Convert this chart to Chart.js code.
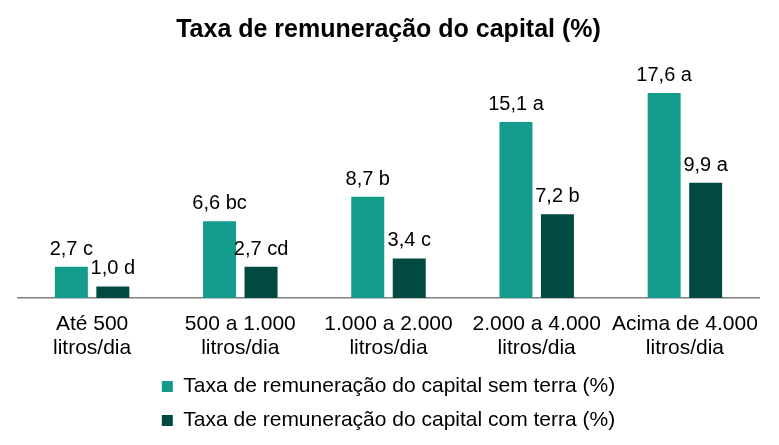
<!DOCTYPE html>
<html><head><meta charset="utf-8">
<script src="https://cdn.jsdelivr.net/npm/chart.js@4"></script>
<style>html,body{margin:0;padding:0;background:#fff}#wrap{width:779px;height:445px}</style>
</head><body><div id="wrap"><canvas id="c"></canvas></div>
<script>
const categories = [["Até 500","litros/dia"],["500 a 1.000","litros/dia"],["1.000 a 2.000","litros/dia"],["2.000 a 4.000","litros/dia"],["Acima de 4.000","litros/dia"]];
const semTerra = [2.7, 6.6, 8.7, 15.1, 17.6];
const comTerra = [1.0, 2.7, 3.4, 7.2, 9.9];
const semLetters = ["c","bc","b","a","a"];
const comLetters = ["d","cd","c","b","a"];
const seriesNames = ["Taxa de remuneração do capital sem terra (%)","Taxa de remuneração do capital com terra (%)"];
const letters = [semLetters, comLetters];
const FONT = '"Liberation Sans", Arial, sans-serif';

const labelPlugin = {
  id:'barLabels',
  afterDatasetsDraw(chart){
    const ctx = chart.ctx;
    ctx.save();
    ctx.font = '20px ' + FONT;
    ctx.fillStyle = '#000';
    ctx.textAlign = 'center';
    ctx.textBaseline = 'alphabetic';
    chart.data.datasets.forEach((ds, di) => {
      chart.getDatasetMeta(di).data.forEach((bar, i) => {
        const txt = ds.data[i].toFixed(1).replace('.', ',') + ' ' + letters[di][i];
        ctx.fillText(txt, bar.x, bar.y - 12);
      });
    });
    ctx.restore();
  }
};

new Chart(document.getElementById('c'), {
  type:'bar',
  data:{
    labels: categories,
    datasets:[
      {label: seriesNames[0], data: semTerra, backgroundColor:'#139B8C'},
      {label: seriesNames[1], data: comTerra, backgroundColor:'#004A42'}
    ]
  },
  options:{
    responsive:true, maintainAspectRatio:false, animation:false,
    layout:{padding:{left:18,right:20,top:6,bottom:4}},
    datasets:{bar:{categoryPercentage:0.56, barPercentage:0.795}},
    plugins:{
      title:{display:true, text:'Taxa de remuneração do capital (%)', color:'#000',
        font:{family:FONT, size:25, weight:'bold', lineHeight:1.2}, padding:{top:9,bottom:20}},
      legend:{position:'bottom', labels:{color:'#000', boxWidth:11, boxHeight:11, padding:13,
        font:{family:FONT, size:21, lineHeight:1.2}}},
      tooltip:{enabled:false}
    },
    scales:{
      x:{grid:{display:false, drawTicks:false}, border:{display:true,color:'#7f7f7f',width:1.5},
        ticks:{color:'#000', padding:14, maxRotation:0, minRotation:0, autoSkip:false,
          font:{family:FONT, size:21, lineHeight:1.14}},
        afterFit(s){ s.height -= 11; }},
      y:{display:false, min:0, max:20}
    }
  },
  plugins:[labelPlugin]
});
</script></body></html>
